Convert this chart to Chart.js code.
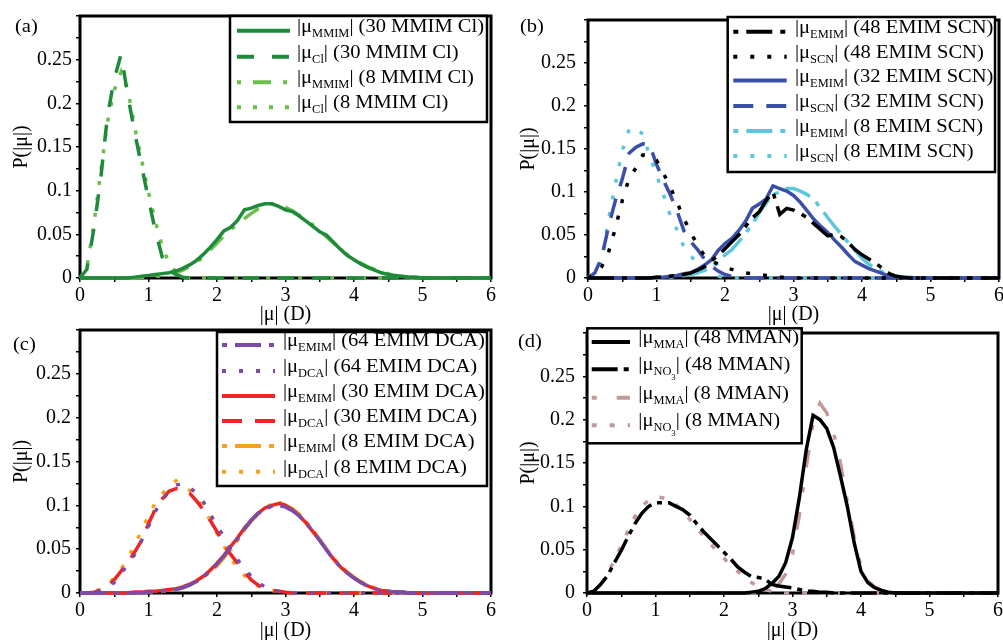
<!DOCTYPE html>
<html>
<head>
<meta charset="utf-8">
<script src="https://cdn.jsdelivr.net/npm/chart.js@4.4.0/dist/chart.umd.min.js"></script>
<style>
  html, body { margin: 0; padding: 0; background: #fff; overflow: hidden; width: 1003px; height: 640px; }
  canvas { position: absolute; }
</style>
</head>
<body>
<canvas id="panelA" width="503" height="327" style="left:0;top:0"></canvas>
<canvas id="panelB" width="520" height="327" style="left:500px;top:0"></canvas>
<canvas id="panelC" width="503" height="330" style="left:0;top:313px"></canvas>
<canvas id="panelD" width="520" height="330" style="left:500px;top:313px"></canvas>
<script>
// |mu| grid (Debye), shared by every distribution
const mu = [0, 0.1, 0.2, 0.3, 0.4, 0.5, 0.6, 0.7, 0.8, 0.9,
  1, 1.1, 1.2, 1.3, 1.4, 1.5, 1.6, 1.7, 1.8, 1.9,
  2, 2.1, 2.2, 2.3, 2.4, 2.5, 2.6, 2.7, 2.8, 2.9,
  3, 3.1, 3.2, 3.3, 3.4, 3.5, 3.6, 3.7, 3.8, 3.9,
  4, 4.1, 4.2, 4.3, 4.4, 4.5, 4.6, 4.7, 4.8, 4.9,
  5, 5.5, 6];

// (a) MMIM Cl
const mmimCl30Cation = [0, 0, 0, 0, 0, 0, 0, 0, 0.001, 0.002,
  0.003, 0.004, 0.005, 0.006, 0.008, 0.011, 0.015, 0.02, 0.027, 0.035,
  0.044, 0.054, 0.058, 0.066, 0.078, 0.08, 0.083, 0.085, 0.085, 0.082,
  0.078, 0.076, 0.071, 0.065, 0.059, 0.053, 0.049, 0.041, 0.033, 0.026,
  0.021, 0.016, 0.012, 0.009, 0.006, 0.004, 0.003, 0.002, 0.001, 0.001,
  0, 0, 0];
const mmimCl30Anion = [0, 0.01, 0.055, 0.112, 0.185, 0.228, 0.256, 0.208, 0.166, 0.128,
  0.09, 0.054, 0.024, 0.011, 0.004, 0.001, 0, 0, 0, 0,
  0, 0, 0, 0, 0, 0, 0, 0, 0, 0,
  0, 0, 0, 0, 0, 0, 0, 0, 0, 0,
  0, 0, 0, 0, 0, 0, 0, 0, 0, 0,
  0, 0, 0];
const mmimCl8Cation = [0, 0, 0, 0, 0, 0, 0, 0, 0, 0.001,
  0.001, 0.002, 0.003, 0.004, 0.006, 0.009, 0.013, 0.018, 0.024, 0.032,
  0.04, 0.048, 0.055, 0.062, 0.068, 0.074, 0.079, 0.083, 0.085, 0.084,
  0.081, 0.077, 0.072, 0.067, 0.061, 0.054, 0.047, 0.04, 0.033, 0.027,
  0.022, 0.017, 0.013, 0.01, 0.007, 0.005, 0.003, 0.002, 0.001, 0.001,
  0.0005, 0, 0];
const mmimCl8Anion = [0, 0.012, 0.06, 0.12, 0.178, 0.215, 0.236, 0.215, 0.172, 0.135,
  0.098, 0.065, 0.036, 0.017, 0.007, 0.002, 0, 0, 0, 0,
  0, 0, 0, 0, 0, 0, 0, 0, 0, 0,
  0, 0, 0, 0, 0, 0, 0, 0, 0, 0,
  0, 0, 0, 0, 0, 0, 0, 0, 0, 0,
  0, 0, 0];

// (b) EMIM SCN
const emimScn48Cation = [0, 0, 0, 0, 0, 0, 0, 0, 0, 0,
  0.001, 0.001, 0.002, 0.003, 0.004, 0.006, 0.009, 0.013, 0.02, 0.026,
  0.034, 0.042, 0.05, 0.06, 0.07, 0.077, 0.09, 0.1, 0.074, 0.081,
  0.079, 0.075, 0.07, 0.063, 0.056, 0.049, 0.051, 0.048, 0.041, 0.033,
  0.027, 0.022, 0.017, 0.011, 0.005, 0.002, 0.001, 0, 0, 0,
  0, 0, 0];
const emimScn48Anion = [0, 0.004, 0.013, 0.03, 0.058, 0.09, 0.116, 0.128, 0.143, 0.143,
  0.137, 0.122, 0.106, 0.088, 0.069, 0.053, 0.038, 0.026, 0.02, 0.016,
  0.012, 0.01, 0.008, 0.006, 0.005, 0.004, 0.003, 0.002, 0.001, 0.001,
  0, 0, 0, 0, 0, 0, 0, 0, 0, 0,
  0, 0, 0, 0, 0, 0, 0, 0, 0, 0,
  0, 0, 0];
const emimScn32Cation = [0, 0, 0, 0, 0, 0, 0, 0, 0, 0,
  0.001, 0.001, 0.002, 0.003, 0.005, 0.006, 0.01, 0.015, 0.021, 0.032,
  0.04, 0.046, 0.055, 0.066, 0.081, 0.086, 0.092, 0.107, 0.104, 0.101,
  0.096, 0.088, 0.078, 0.068, 0.06, 0.053, 0.044, 0.036, 0.027, 0.019,
  0.015, 0.011, 0.008, 0.005, 0.002, 0.001, 0, 0, 0, 0,
  0, 0, 0];
const emimScn32Anion = [0, 0.006, 0.024, 0.06, 0.09, 0.115, 0.145, 0.152, 0.156, 0.155,
  0.132, 0.114, 0.097, 0.078, 0.055, 0.042, 0.033, 0.022, 0.014, 0.008,
  0.004, 0.002, 0.001, 0, 0, 0, 0, 0, 0, 0,
  0, 0, 0, 0, 0, 0, 0, 0, 0, 0,
  0, 0, 0, 0, 0, 0, 0, 0, 0, 0,
  0, 0, 0];
const emimScn8Cation = [0, 0, 0, 0, 0, 0, 0, 0, 0, 0,
  0, 0, 0.001, 0.002, 0.003, 0.004, 0.006, 0.009, 0.013, 0.018,
  0.027, 0.033, 0.042, 0.052, 0.063, 0.076, 0.087, 0.097, 0.1, 0.104,
  0.104, 0.101, 0.097, 0.091, 0.081, 0.07, 0.06, 0.051, 0.041, 0.032,
  0.023, 0.016, 0.011, 0.007, 0.004, 0.002, 0.001, 0.001, 0, 0,
  0, 0, 0];
const emimScn8Anion = [0, 0.005, 0.02, 0.068, 0.11, 0.148, 0.173, 0.175, 0.167, 0.142,
  0.12, 0.097, 0.073, 0.056, 0.036, 0.026, 0.016, 0.009, 0.005, 0.002,
  0.001, 0, 0, 0, 0, 0, 0, 0, 0, 0,
  0, 0, 0, 0, 0, 0, 0, 0, 0, 0,
  0, 0, 0, 0, 0, 0, 0, 0, 0, 0,
  0, 0, 0];

// (c) EMIM DCA
const emimDca64Cation = [0, 0, 0, 0, 0, 0, 0, 0, 0, 0,
  0.001, 0.001, 0.002, 0.003, 0.004, 0.006, 0.009, 0.013, 0.018, 0.025,
  0.033, 0.042, 0.052, 0.062, 0.073, 0.083, 0.091, 0.096, 0.099, 0.1,
  0.098, 0.094, 0.088, 0.08, 0.07, 0.06, 0.049, 0.038, 0.03, 0.023,
  0.017, 0.012, 0.008, 0.005, 0.003, 0.002, 0.001, 0.001, 0, 0,
  0, 0, 0];
const emimDca64Anion = [0, 0, 0.001, 0.003, 0.006, 0.012, 0.022, 0.033, 0.044, 0.06,
  0.076, 0.093, 0.106, 0.116, 0.123, 0.125, 0.12, 0.114, 0.104, 0.09,
  0.077, 0.064, 0.05, 0.038, 0.028, 0.019, 0.012, 0.007, 0.004, 0.002,
  0.001, 0, 0, 0, 0, 0, 0, 0, 0, 0,
  0, 0, 0, 0, 0, 0, 0, 0, 0, 0,
  0, 0, 0];
const emimDca30Cation = [0, 0, 0, 0, 0, 0, 0, 0, 0.001, 0.001,
  0.002, 0.002, 0.003, 0.004, 0.005, 0.007, 0.01, 0.014, 0.019, 0.026,
  0.034, 0.043, 0.053, 0.063, 0.074, 0.083, 0.091, 0.097, 0.1, 0.102,
  0.1, 0.095, 0.088, 0.08, 0.07, 0.06, 0.049, 0.039, 0.03, 0.023,
  0.017, 0.012, 0.008, 0.005, 0.003, 0.002, 0.001, 0.001, 0, 0,
  0, 0, 0];
const emimDca30Anion = [0, 0, 0.001, 0.003, 0.008, 0.015, 0.025, 0.035, 0.047, 0.06,
  0.079, 0.096, 0.107, 0.116, 0.119, 0.119, 0.114, 0.105, 0.095, 0.083,
  0.07, 0.056, 0.044, 0.034, 0.024, 0.015, 0.009, 0.005, 0.003, 0.002,
  0.001, 0, 0, 0, 0, 0, 0, 0, 0, 0,
  0, 0, 0, 0, 0, 0, 0, 0, 0, 0,
  0, 0, 0];
const emimDca8Cation = [0, 0, 0, 0, 0, 0, 0, 0, 0, 0,
  0.001, 0.001, 0.002, 0.003, 0.004, 0.006, 0.009, 0.013, 0.018, 0.024,
  0.031, 0.04, 0.05, 0.06, 0.072, 0.082, 0.09, 0.097, 0.101, 0.104,
  0.1, 0.096, 0.09, 0.081, 0.072, 0.061, 0.05, 0.04, 0.031, 0.024,
  0.018, 0.013, 0.009, 0.006, 0.003, 0.002, 0.001, 0.001, 0, 0,
  0, 0, 0];
const emimDca8Anion = [0, 0, 0.002, 0.004, 0.01, 0.017, 0.027, 0.04, 0.055, 0.072,
  0.088, 0.103, 0.113, 0.122, 0.128, 0.122, 0.117, 0.11, 0.097, 0.083,
  0.068, 0.054, 0.04, 0.028, 0.02, 0.013, 0.008, 0.005, 0.003, 0.002,
  0.001, 0, 0, 0, 0, 0, 0, 0, 0, 0,
  0, 0, 0, 0, 0, 0, 0, 0, 0, 0,
  0, 0, 0];

// (d) MMAN
const mman48Cation = [0, 0, 0, 0, 0, 0, 0, 0, 0, 0,
  0, 0, 0, 0, 0, 0, 0, 0, 0, 0,
  0, 0, 0, 0, 0.001, 0.002, 0.005, 0.011, 0.019, 0.035,
  0.064, 0.11, 0.165, 0.205, 0.2, 0.19, 0.168, 0.135, 0.1, 0.058,
  0.025, 0.012, 0.006, 0.003, 0.001, 0, 0, 0, 0, 0,
  0, 0, 0];
const mman48Anion = [0, 0.002, 0.01, 0.02, 0.035, 0.049, 0.065, 0.08, 0.092, 0.1,
  0.104, 0.104, 0.104, 0.1, 0.096, 0.09, 0.08, 0.071, 0.063, 0.055,
  0.047, 0.039, 0.03, 0.024, 0.019, 0.018, 0.016, 0.01, 0.008, 0.007,
  0.006, 0.004, 0.002, 0.002, 0.001, 0.001, 0, 0, 0, 0,
  0, 0, 0, 0, 0, 0, 0, 0, 0, 0,
  0, 0, 0];
const mman8Cation = [0, 0, 0, 0, 0, 0, 0, 0, 0, 0,
  0, 0, 0, 0, 0, 0, 0, 0, 0, 0,
  0, 0, 0, 0, 0, 0.001, 0.002, 0.004, 0.01, 0.022,
  0.045, 0.09, 0.145, 0.196, 0.219, 0.208, 0.185, 0.15, 0.105, 0.065,
  0.03, 0.014, 0.007, 0.003, 0.001, 0, 0, 0, 0, 0,
  0, 0, 0];
const mman8Anion = [0, 0.002, 0.01, 0.022, 0.038, 0.055, 0.072, 0.088, 0.1, 0.107,
  0.111, 0.11, 0.108, 0.102, 0.094, 0.085, 0.075, 0.066, 0.057, 0.048,
  0.04, 0.032, 0.025, 0.018, 0.012, 0.007, 0.004, 0.002, 0.001, 0,
  0, 0, 0, 0, 0, 0, 0, 0, 0, 0,
  0, 0, 0, 0, 0, 0, 0, 0, 0, 0,
  0, 0, 0];

const SERIF = '"Liberation Serif", "Times New Roman", serif';
const tickFont = { family: SERIF, size: 20 };

const SOLID = [];
const DASH = [20, 13];
const DOT = [4, 13];
const DASHDOT = [26, 8, 5, 8];

// text with a slightly widened face, subscripts drawn smaller and lower
function drawStretched(ctx, x, y, parts) {
  ctx.save();
  ctx.translate(x, y);
  ctx.scale(1.08, 1);
  ctx.fillStyle = '#000';
  ctx.textBaseline = 'alphabetic';
  let cx = 0;
  parts.forEach(p => {
    ctx.font = p.size + 'px ' + SERIF;
    ctx.fillText(p.t, cx, p.dy || 0);
    cx += ctx.measureText(p.t).width;
  });
  ctx.restore();
}

const frame = {
  id: 'frame',
  beforeDatasetsDraw(chart) {
    const { ctx, chartArea: a } = chart;
    ctx.save();
    ctx.lineWidth = 3;
    ctx.strokeStyle = '#000';
    ctx.strokeRect(a.left, a.top, a.right - a.left, a.bottom - a.top);
    ctx.restore();
  }
};

function legendPlugin(box, rows, lineX0, lineX1, textX) {
  return {
    id: 'legendBox',
    afterDraw(chart) {
      const ctx = chart.ctx;
      ctx.save();
      ctx.fillStyle = '#fff';
      ctx.fillRect(box.x, box.y, box.w, box.h);
      ctx.lineWidth = 2.5;
      ctx.strokeStyle = '#000';
      ctx.strokeRect(box.x, box.y, box.w, box.h);
      chart.data.datasets.forEach((ds, i) => {
        const ry = rows[i];
        ctx.strokeStyle = ds.borderColor;
        ctx.lineWidth = 4;
        ctx.setLineDash(ds.borderDash);
        ctx.lineDashOffset = ds.legendOffset || 0;
        ctx.beginPath();
        ctx.moveTo(lineX0, ry);
        ctx.lineTo(lineX1, ry);
        ctx.stroke();
        ctx.setLineDash([]);
        const parts = [{ t: '|\u03bc', size: 19 }, { t: ds.sub, size: 11.5, dy: 5 }];
        if (ds.subsub) parts.push({ t: ds.subsub, size: 8, dy: 10 });
        parts.push({ t: '| ' + ds.tail, size: 19 });
        drawStretched(ctx, textX, ry + 1, parts);
      });
      ctx.restore();
    }
  };
}

function tagPlugin(text, x, y) {
  return {
    id: 'panelTag',
    afterDraw(chart) {
      drawStretched(chart.ctx, x, y, [{ t: text, size: 19 }]);
    }
  };
}

function makePanel(id, cfg) {
  const ctx = document.getElementById(id).getContext('2d');
  return new Chart(ctx, {
    type: 'line',
    data: {
      datasets: cfg.series.map(s => ({
        data: mu.map((x, i) => ({ x: x, y: s.values[i] })),
        borderColor: s.color,
        borderDash: s.dash,
        legendOffset: s.offset,
        borderWidth: 3.5,
        pointRadius: 0,
        tension: 0,
        fill: false,
        clip: 4,
        sub: s.sub,
        subsub: s.subsub,
        tail: s.tail
      }))
    },
    options: {
      responsive: false,
      animation: false,
      devicePixelRatio: 1,
      layout: { padding: cfg.padding },
      plugins: { legend: { display: false }, tooltip: { enabled: false } },
      scales: {
        x: {
          type: 'linear',
          min: 0,
          max: 6,
          afterFit(scale) { scale.height = cfg.xHeight; },
          border: { display: false },
          grid: { drawOnChartArea: false, drawTicks: true, tickLength: 4, color: '#000', lineWidth: 1.5 },
          ticks: {
            stepSize: 0.5, autoSkip: false, maxRotation: 0, padding: 2, color: '#000', font: tickFont,
            callback: v => Math.abs(v - Math.round(v)) < 1e-6 ? String(Math.round(v)) : ''
          },
          title: { display: true, text: '|\u03bc| (D)', color: '#000', font: tickFont, padding: 0 }
        },
        y: {
          min: 0,
          max: 0.3,
          afterFit(scale) { scale.width = cfg.yWidth; },
          border: { display: false },
          grid: { drawOnChartArea: false, drawTicks: true, tickLength: 4, color: '#000', lineWidth: 1.5 },
          ticks: {
            stepSize: 0.025, autoSkip: false, padding: cfg.yTickPad, color: '#000', font: tickFont,
            callback: v => {
              const k = Math.round(v / 0.025);
              return (k % 2 || k >= 12) ? '' : String(+v.toFixed(2));
            }
          },
          title: { display: true, text: 'P(|\u03bc|)', color: '#000', font: tickFont, padding: { top: cfg.yTitlePad, bottom: 0 } }
        }
      }
    },
    plugins: [frame, legendPlugin(cfg.box, cfg.rows, cfg.lineX0, cfg.lineX1, cfg.textX), tagPlugin(cfg.tag, cfg.tagX, cfg.tagY)]
  });
}

const darkGreen = '#1e8b3a', lightGreen = '#6cbf4a';
const blue = '#3c4fa8', cyan = '#5cc6da';
const purple = '#7b4ba8', red = '#ec2626', orange = '#f7a21e';
const rose = '#c29898';

makePanel('panelA', {
  padding: { left: 0, top: 13, right: 12, bottom: 0 },
  yWidth: 80, xHeight: 49, yTickPad: 4, yTitlePad: 10,
  tag: '(a)', tagX: 15, tagY: 31.5,
  box: { x: 230, y: 16, w: 257, h: 106 }, rows: [30.7, 56.7, 82.3, 107.3], lineX0: 237, lineX1: 290, textX: 297,
  series: [
    { values: mmimCl30Cation, color: darkGreen, dash: SOLID, sub: 'MMIM', tail: '(30 MMIM Cl)' },
    { values: mmimCl30Anion, color: darkGreen, dash: [17, 18], sub: 'Cl', tail: '(30 MMIM Cl)' },
    { values: mmimCl8Cation, color: lightGreen, dash: [18, 12, 4, 12], offset: 30, sub: 'MMIM', tail: '(8 MMIM Cl)' },
    { values: mmimCl8Anion, color: lightGreen, dash: [4, 12], sub: 'Cl', tail: '(8 MMIM Cl)' }
  ]
});

makePanel('panelB', {
  padding: { left: 0, top: 13, right: 21, bottom: 0 },
  yWidth: 88, xHeight: 49, yTickPad: 8, yTitlePad: 17,
  tag: '(b)', tagX: 20, tagY: 31.5,
  box: { x: 227.7, y: 17, w: 267.3, h: 155 }, rows: [31.7, 56.7, 80.5, 106, 131, 156], lineX0: 233.3, lineX1: 286.7, textX: 295,
  series: [
    { values: emimScn48Cation, color: '#000', dash: DASHDOT, offset: 34, sub: 'EMIM', tail: '(48 EMIM SCN)' },
    { values: emimScn48Anion, color: '#000', dash: DOT, sub: 'SCN', tail: '(48 EMIM SCN)' },
    { values: emimScn32Cation, color: blue, dash: SOLID, sub: 'EMIM', tail: '(32 EMIM SCN)' },
    { values: emimScn32Anion, color: blue, dash: DASH, sub: 'SCN', tail: '(32 EMIM SCN)' },
    { values: emimScn8Cation, color: cyan, dash: DASHDOT, offset: 34, sub: 'EMIM', tail: '(8 EMIM SCN)' },
    { values: emimScn8Anion, color: cyan, dash: DOT, sub: 'SCN', tail: '(8 EMIM SCN)' }
  ]
});

makePanel('panelC', {
  padding: { left: 0, top: 14, right: 12, bottom: 0 },
  yWidth: 80, xHeight: 50, yTickPad: 5, yTitlePad: 10,
  tag: '(c)', tagX: 13, tagY: 36.5,
  box: { x: 217, y: 19, w: 270, h: 154 }, rows: [32, 58, 83, 108, 133, 158.7], lineX0: 222, lineX1: 275, textX: 283,
  series: [
    { values: emimDca64Cation, color: purple, dash: DASHDOT, offset: 34, sub: 'EMIM', tail: '(64 EMIM DCA)' },
    { values: emimDca64Anion, color: purple, dash: DOT, sub: 'DCA', tail: '(64 EMIM DCA)' },
    { values: emimDca30Cation, color: red, dash: SOLID, sub: 'EMIM', tail: '(30 EMIM DCA)' },
    { values: emimDca30Anion, color: red, dash: DASH, sub: 'DCA', tail: '(30 EMIM DCA)' },
    { values: emimDca8Cation, color: orange, dash: DASHDOT, offset: 34, sub: 'EMIM', tail: '(8 EMIM DCA)' },
    { values: emimDca8Anion, color: orange, dash: DOT, sub: 'DCA', tail: '(8 EMIM DCA)' }
  ]
});

makePanel('panelD', {
  padding: { left: 0, top: 14, right: 22, bottom: 0 },
  yWidth: 87, xHeight: 50, yTickPad: 8, yTitlePad: 17,
  tag: '(d)', tagX: 18, tagY: 33.5,
  box: { x: 87.3, y: 15.3, w: 214.4, h: 115 }, rows: [29, 56.3, 84.7, 112.3], lineX0: 91.7, lineX1: 130, textX: 138.3,
  series: [
    { values: mman48Cation, color: '#000', dash: SOLID, sub: 'MMA', tail: '(48 MMAN)' },
    { values: mman48Anion, color: '#000', dash: [26, 6, 5, 6], sub: 'NO', subsub: '3', tail: '(48 MMAN)' },
    { values: mman8Cation, color: rose, dash: [18, 20, 5, 20], offset: 38, sub: 'MMA', tail: '(8 MMAN)' },
    { values: mman8Anion, color: rose, dash: [5, 13], sub: 'NO', subsub: '3', tail: '(8 MMAN)' }
  ]
});
</script>
</body>
</html>
